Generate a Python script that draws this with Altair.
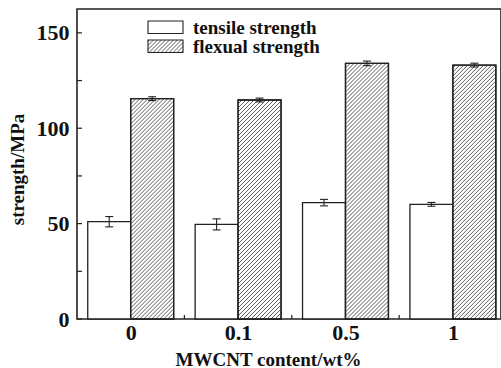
import json
import altair as alt
import pandas as pd

# ---------------- data ----------------
categories = ["0", "0.1", "0.5", "1"]
series_names = ["tensile strength", "flexual strength"]
tensile = [51.0, 49.6, 61.0, 60.1]
tensile_err = [2.7, 2.9, 1.7, 1.0]
flexural = [115.5, 114.8, 134.0, 133.1]
flexural_err = [1.0, 1.0, 1.2, 1.0]
y_labels = [0, 50, 100, 150]
y_ticks = [0, 25, 50, 75, 100, 125, 150]
x_bounds = [1, 2, 3]

# ---------------- layout ----------------
W, H = 424, 310
X_MAX = 3.948
Y_MAX = 162.5
PX_X = W / X_MAX
PX_Y = H / Y_MAX
FONT = "Liberation Serif"
INK = "#222222"
HATCH = "#4a4a4a"
STEP = 4.0  # horizontal pixel spacing of hatch lines

rows = []
for i, c in enumerate(categories):
    rows.append(dict(idx=i, cat=c, series=series_names[0], s=0, value=tensile[i], err=tensile_err[i]))
    rows.append(dict(idx=i, cat=c, series=series_names[1], s=1, value=flexural[i], err=flexural_err[i]))
df = pd.DataFrame(rows)


def hatch_segments(x0, y0, x1, y1):
    """'/' hatch lines (45 deg on screen) inside the data-space box [x0,x1]x[y0,y1]."""
    w = (x1 - x0) * PX_X
    h = (y1 - y0) * PX_Y
    segs = []
    d = -w + STEP / 2
    while d < h:
        # line: up = right + d (pixel units, origin at bottom-left of box)
        sx, sy = (0.0, d) if d >= 0 else (-d, 0.0)
        ex, ey = (w, d + w) if d + w <= h else (h - d, h)
        segs.append(dict(hx=x0 + sx / PX_X, hy=y0 + sy / PX_Y,
                         hx2=x0 + ex / PX_X, hy2=y0 + ey / PX_Y))
        d += STEP
    return segs


xs = alt.Scale(domain=[0, X_MAX], nice=False, zero=False)
ys = alt.Scale(domain=[0, Y_MAX], nice=False)

label_expr = json.dumps(categories) + "[round(datum.value - 0.5)]"
X_AX = alt.Axis(values=[0.5, 1.5, 2.5, 3.5], labelExpr=label_expr, ticks=False, tickSize=0,
                grid=False, domain=False, labelPadding=3, labelFontSize=22, labelFont=FONT,
                labelFontWeight="bold", labelColor="#111", title="MWCNT content/wt%",
                titleFont=FONT, titleFontSize=19, titleFontWeight="bold", titleColor="#111",
                titleX=191, titleY=46, titleAlign="center", titleBaseline="alphabetic",
                labelFlush=False, labelOverlap=False)
Y_AX = alt.Axis(values=y_labels, ticks=False, tickSize=0, grid=False, domain=False,
                labelPadding=8, labelFontSize=22, labelFont=FONT, labelFontWeight="bold",
                labelColor="#111", title="strength/MPa", titleFont=FONT, titleFontSize=19,
                titleFontWeight="bold", titleColor="#111", titleX=-54, titleY=160,
                titleAlign="center", titleBaseline="alphabetic", titleAngle=-90)

base = alt.Chart(df).transform_calculate(
    x0="datum.idx + 0.1 + 0.4 * datum.s",
    x1="datum.idx + 0.5 + 0.4 * datum.s",
    xc="datum.idx + 0.3 + 0.4 * datum.s",
    lo="datum.value - datum.err",
    hi="datum.value + datum.err",
    zero="0",
)

# hatch lines for flexural bars (derived from the bar extents)
hatch_rows = []
for i, v in enumerate(flexural):
    hatch_rows += hatch_segments(i + 0.5, 0.0, i + 0.9, v)

# legend boxes, placed in pixel terms and converted to data units
LEG_X0, LEG_X1 = 71 / PX_X, 106 / PX_X
leg_boxes = [((H - 24.5) / PX_Y, (H - 12) / PX_Y), ((H - 43.5) / PX_Y, (H - 31) / PX_Y)]
hatch_rows += hatch_segments(LEG_X0, leg_boxes[1][0], LEG_X1, leg_boxes[1][1])
hdf = pd.DataFrame(hatch_rows)

layers = []
# all bars: white fill + outline
layers.append(
    base.mark_bar(fill="white", stroke=INK, strokeWidth=1.3).encode(
        x=alt.X("x0:Q", scale=xs, axis=X_AX), x2="x1:Q",
        y=alt.Y("value:Q", scale=ys, axis=Y_AX), y2="zero:Q")
)
# hatching
layers.append(
    alt.Chart(hdf).mark_rule(color=HATCH, strokeWidth=0.9).encode(
        x=alt.X("hx:Q", scale=xs, axis=X_AX), x2="hx2:Q",
        y=alt.Y("hy:Q", scale=ys, axis=Y_AX), y2="hy2:Q")
)
# flexural outlines again on top of the hatching
layers.append(
    base.transform_filter("datum.s == 1").mark_bar(fill=None, fillOpacity=0, stroke=INK, strokeWidth=1.3).encode(
        x=alt.X("x0:Q", scale=xs, axis=X_AX), x2="x1:Q",
        y=alt.Y("value:Q", scale=ys, axis=Y_AX), y2="zero:Q")
)
# error bars
layers.append(
    base.mark_rule(color=INK, strokeWidth=1.1).encode(
        x=alt.X("xc:Q", scale=xs, axis=X_AX),
        y=alt.Y("lo:Q", scale=ys, axis=Y_AX), y2="hi:Q")
)
for f in ["lo", "hi"]:
    layers.append(
        base.mark_tick(orient="horizontal", size=8, thickness=1.1, color=INK, opacity=1).encode(
            x=alt.X("xc:Q", scale=xs, axis=X_AX),
            y=alt.Y(f"{f}:Q", scale=ys, axis=Y_AX))
    )
# inward ticks
layers.append(
    alt.Chart(pd.DataFrame({"v": y_ticks})).mark_rule(color=INK, strokeWidth=1.2).encode(
        y=alt.Y("v:Q", scale=ys, axis=Y_AX), x=alt.value(0), x2=alt.value(5))
)
layers.append(
    alt.Chart(pd.DataFrame({"v": x_bounds})).mark_rule(color=INK, strokeWidth=1.2).encode(
        x=alt.X("v:Q", scale=xs, axis=X_AX), y=alt.value(H), y2=alt.value(H - 4))
)
# legend
ldf = pd.DataFrame({
    "label": series_names,
    "lx0": [LEG_X0, LEG_X0], "lx1": [LEG_X1, LEG_X1],
    "ly0": [b[0] for b in leg_boxes], "ly1": [b[1] for b in leg_boxes],
})
layers.append(
    alt.Chart(ldf).mark_rect(fillOpacity=0, fill="white", stroke=INK, strokeWidth=1.1).encode(
        x=alt.X("lx0:Q", scale=xs, axis=X_AX), x2="lx1:Q",
        y=alt.Y("ly0:Q", scale=ys, axis=Y_AX), y2="ly1:Q")
)
for k, name in enumerate(series_names):
    layers.append(
        alt.Chart(pd.DataFrame({"label": [name]})).mark_text(
            align="left", baseline="alphabetic", font=FONT, fontSize=19,
            fontWeight="bold", color="#111").encode(
            x=alt.value(116), y=alt.value(H - leg_boxes[k][0] * PX_Y), text="label:N")
    )

chart = alt.layer(*layers).properties(
    width=W, height=H,
    padding={"left": 77, "top": 9, "right": 0, "bottom": 49},
    autosize=alt.AutoSizeParams(type="none"),
    background="white",
).configure_view(stroke=INK, strokeWidth=1.6)

chart.save("out.html", embed_options={"renderer": "svg", "actions": False})
